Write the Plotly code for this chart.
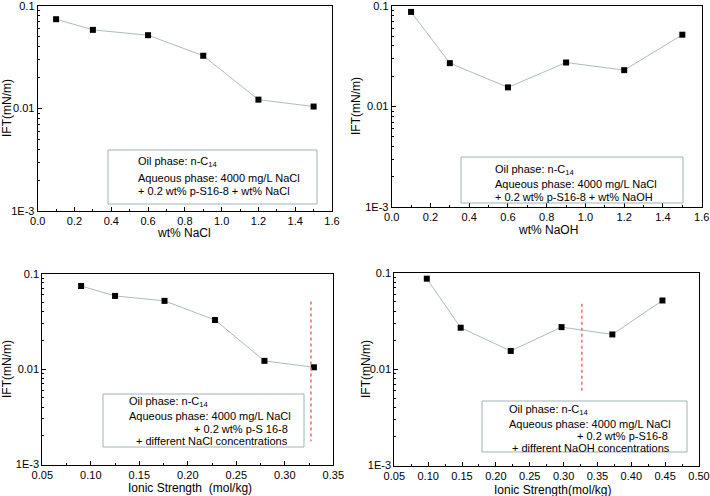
import plotly.graph_objects as go

# ---------------- data ----------------
wt_nacl = [0.1, 0.3, 0.6, 0.9, 1.2, 1.5]
ift_nacl = [0.0743, 0.0585, 0.0519, 0.0327, 0.0122, 0.01045]

wt_naoh = [0.1, 0.3, 0.6, 0.9, 1.2, 1.5]
ift_naoh = [0.0873, 0.0270, 0.0155, 0.0274, 0.0230, 0.0518]

ionic_nacl = [0.090, 0.125, 0.176, 0.228, 0.279, 0.330]
ift_ionic_nacl = [0.0743, 0.0585, 0.0519, 0.0327, 0.0122, 0.01045]

ionic_naoh = [0.098, 0.148, 0.222, 0.297, 0.372, 0.446]
ift_ionic_naoh = [0.0873, 0.0270, 0.0155, 0.0274, 0.0230, 0.0518]

ref_line_x_nacl = [0.327, 0.327]
ref_line_y_nacl = [0.051, 0.00175]
ref_line_x_naoh = [0.327, 0.327]
ref_line_y_naoh = [0.048, 0.0056]

y_tickvals = [0.001, 0.01, 0.1]
y_ticktext = ["1E-3", "0.01", "0.1"]
y_minor_tickvals = [m * d for d in (0.001, 0.01) for m in range(2, 10)]

FONT = "Liberation Sans, Arial, sans-serif"
LINE_COLOR = "#a9bbc2"
BOX_COLOR = "#9fb3b3"
RED = "#f06a6a"

W, H = 710, 496

def px_x(p):
    return p / W

def px_y(p):
    return 1 - p / H

fig = go.Figure()

panels = [
    dict(x=wt_nacl, y=ift_nacl, xd=[37.7, 332], yd=[6, 211], xr=[0, 1.6], dt=0.2, mdt=0.1, fmt=".1f"),
    dict(x=wt_naoh, y=ift_naoh, xd=[391.7, 701.7], yd=[6, 207], xr=[0, 1.6], dt=0.2, mdt=0.1, fmt=".1f"),
    dict(x=ionic_nacl, y=ift_ionic_nacl, xd=[42.3, 333.3], yd=[273.7, 464.5], xr=[0.05, 0.35], dt=0.05, mdt=0.025, fmt=".2f"),
    dict(x=ionic_naoh, y=ift_ionic_naoh, xd=[394.3, 699], yd=[273, 465.5], xr=[0.05, 0.5], dt=0.05, mdt=0.025, fmt=".2f"),
]

layout = dict(
    width=W, height=H,
    margin=dict(l=0, r=0, t=0, b=0),
    paper_bgcolor="white", plot_bgcolor="white",
    showlegend=False,
    font=dict(family=FONT, size=11, color="black"),
)

for i, p in enumerate(panels, start=1):
    xa = "xaxis" if i == 1 else f"xaxis{i}"
    ya = "yaxis" if i == 1 else f"yaxis{i}"
    xr = "x" if i == 1 else f"x{i}"
    yr = "y" if i == 1 else f"y{i}"
    fig.add_trace(go.Scatter(
        x=p["x"], y=p["y"], xaxis=xr, yaxis=yr, mode="lines+markers",
        line=dict(color=LINE_COLOR, width=1),
        marker=dict(symbol="square", size=6, color="black"),
        cliponaxis=False,
    ))
    layout[xa] = dict(
        domain=[px_x(p["xd"][0]), px_x(p["xd"][1])],
        anchor=yr, range=p["xr"], dtick=p["dt"], tick0=0, tickformat=p["fmt"],
        showline=True, linecolor="black", linewidth=1, mirror=True,
        ticks="inside", ticklen=4, tickcolor="black", showgrid=False, zeroline=False,
        tickfont=dict(size=11), automargin=False, ticklabeloverflow="allow",
        minor=dict(ticks="inside", dtick=p["mdt"], ticklen=2, tickcolor="black", showgrid=False),
    )
    layout[ya] = dict(
        domain=[px_y(p["yd"][1]), px_y(p["yd"][0])],
        anchor=xr, type="log", range=[-3, -1],
        tickvals=y_tickvals, ticktext=y_ticktext,
        showline=True, linecolor="black", linewidth=1, mirror=True,
        ticks="inside", ticklen=4, tickcolor="black", showgrid=False, zeroline=False,
        tickfont=dict(size=11), automargin=False, ticklabeloverflow="allow",
        minor=dict(ticks="inside", tickvals=y_minor_tickvals, ticklen=2, tickcolor="black", showgrid=False),
    )

fig.add_trace(go.Scatter(x=ref_line_x_nacl, y=ref_line_y_nacl, xaxis="x3", yaxis="y3", mode="lines",
                         line=dict(color=RED, width=1.5, dash="dot")))
fig.add_trace(go.Scatter(x=ref_line_x_naoh, y=ref_line_y_naoh, xaxis="x4", yaxis="y4", mode="lines",
                         line=dict(color=RED, width=1.5, dash="dot")))

fig.update_layout(**layout)

# boxes
boxes = [(108, 150, 317, 204), (461, 157, 683, 203), (103, 394, 304, 447), (482, 401, 687, 452)]
for x0, y0, x1, y1 in boxes:
    fig.add_shape(type="rect", xref="paper", yref="paper",
                  x0=px_x(x0), x1=px_x(x1), y0=px_y(y1), y1=px_y(y0),
                  line=dict(color=BOX_COLOR, width=1), fillcolor="rgba(0,0,0,0)", layer="above")

def txt(x, y, s, anchor="left", size=11):
    fig.add_annotation(x=px_x(x), y=px_y(y), xref="paper", yref="paper", text=s,
                       showarrow=False, xanchor=anchor, yanchor="middle",
                       font=dict(family=FONT, size=size, color="black"))

OIL = "Oil phase: n-C<sub>14</sub>"
AQ = "Aqueous phase: 4000 mg/L NaCl"

# panel 1
txt(136, 162, OIL); txt(136, 178, AQ); txt(136, 191, "+ 0.2 wt% p-S16-8 + wt% NaCl")
# panel 2
txt(493, 170, OIL); txt(493, 184, AQ); txt(493, 197, "+ 0.2 wt% p-S16-8 + wt% NaOH")
# panel 3
txt(127, 402, OIL); txt(127, 416, AQ)
txt(290, 429, "+ 0.2 wt% p-S 16-8", anchor="right"); txt(290, 441, "+ different NaCl concentrations", anchor="right")
# panel 4
txt(507, 410, OIL); txt(507, 424, AQ)
txt(670, 436, "+ 0.2 wt% p-S16-8", anchor="right"); txt(672, 448, "+ different NaOH concentrations", anchor="right")

# axis titles
txt(184, 233, "wt% NaCl", anchor="center", size=12)
txt(548, 230, "wt% NaOH", anchor="center", size=12)
txt(190, 488, "Ionic Strength  (mol/kg)", anchor="center", size=12)
txt(552, 490, "Ionic Strength(mol/kg)", anchor="center", size=12)

for x, y in [(7, 108), (356, 106), (7, 369), (366, 369)]:
    fig.add_annotation(x=px_x(x), y=px_y(y), xref="paper", yref="paper", text="IFT(mN/m)",
                       showarrow=False, textangle=-90, xanchor="center", yanchor="middle",
                       font=dict(family=FONT, size=12, color="black"))

fig.write_html("out.html", config={"displayModeBar": False},
               post_script="document.body.style.margin='0';document.body.style.overflow='hidden';")
